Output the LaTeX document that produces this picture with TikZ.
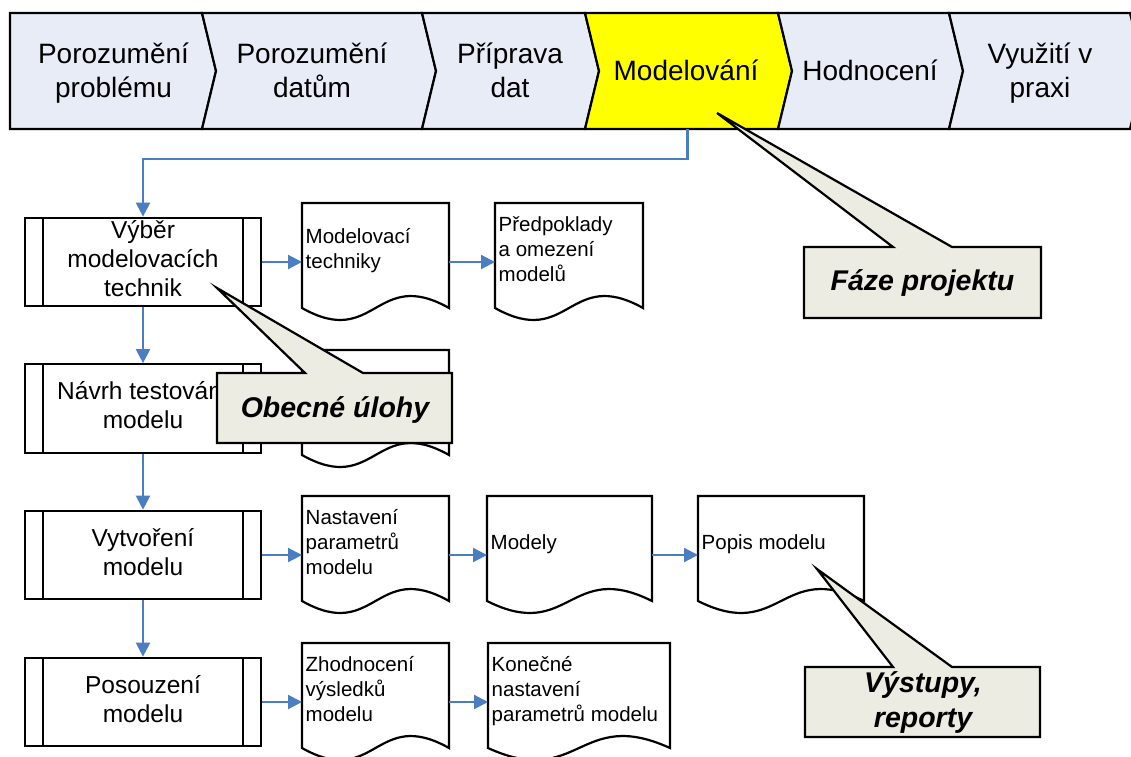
\documentclass[tikz,border=0pt]{standalone}
\usepackage{fontspec}
\setmainfont{Liberation Sans}
\usetikzlibrary{arrows.meta,calc}

\definecolor{phasefill}{RGB}{231,236,246}
\definecolor{phaseactive}{RGB}{255,255,0}
\definecolor{flowblue}{RGB}{74,126,193}
\definecolor{notefill}{RGB}{236,236,226}

\tikzset{
  outline/.style={line width=2.2pt, draw=black, line join=miter},
  phase/.style={outline, fill=phasefill},
  phasetext/.style={font=\fontsize{28}{34}\selectfont, align=center, inner sep=0pt},
  procbox/.style={outline, fill=white, minimum width=236pt, minimum height=88.5pt,
    inner sep=0pt, align=center, font=\fontsize{24.5}{29}\selectfont},
  docframe/.style={inner sep=0pt, outer sep=0pt, minimum height=118pt},
  doctext/.style={font=\fontsize{20.5}{25}\selectfont, align=left, inner sep=0pt, anchor=west},
  flow/.style={draw=flowblue, line width=2.2pt, -{Triangle[length=14pt,width=14pt]}},
  note/.style={outline, fill=notefill},
  notetext/.style={font=\fontsize{28.5}{35}\selectfont\bfseries\itshape, align=center, inner sep=0pt},
}

% document symbol: name, left, top, width, text
\newcommand\docnode[5]{%
  \draw[outline, fill=white] (#2,#3) -- ({#2+#4},#3) -- ({#2+#4},{#3+105})
    .. controls +({-#4/2},-41.5) and +({#4/2},41.5) .. (#2,{#3+105}) -- cycle;
  \node[docframe, minimum width=#4pt] (#1) at ({#2+#4/2},{#3+59}) {};
  \node[doctext] (#1-text) at ({#2+3.5},{#3+48}) {#5};
}
% predefined process: inner side bars
\newcommand\procbars[1]{%
  \draw[outline] ([xshift=19.1pt]#1.north west) -- ([xshift=19.1pt]#1.south west);
  \draw[outline] ([xshift=-19.1pt]#1.north east) -- ([xshift=-19.1pt]#1.south east);
}

\begin{document}
\begin{tikzpicture}[x=1pt, y=-1pt]
\useasboundingbox (0,0) rectangle (1131,756);
\fill[white] (0,0) rectangle (1131,756);

% phase band
\draw[phase] (10,13) -- (202,13) -- (216,71) -- (202,129) -- (10,129) -- cycle;
\draw[phase] (202,13) -- (422,13) -- (436,71) -- (422,129) -- (202,129) -- (216,71) -- cycle;
\draw[phase] (422,13) -- (585,13) -- (599,71) -- (585,129) -- (422,129) -- (436,71) -- cycle;
\draw[outline, fill=phaseactive] (585,13) -- (778,13) -- (792,71) -- (778,129) -- (585,129) -- (599,71) -- cycle;
\draw[phase] (778,13) -- (949,13) -- (963,71) -- (949,129) -- (778,129) -- (792,71) -- cycle;
\draw[phase] (949,13) -- (1130,13) -- (1144,71) -- (1130,129) -- (949,129) -- (963,71) -- cycle;

\node[phasetext] (ph1) at (113.5,73.5) {\strut Porozumění\\\strut problému};
\node[phasetext] (ph2) at (312,73.5) {\strut Porozumění\\\strut datům};
\node[phasetext] (ph3) at (510,73.5) {\strut Příprava\\\strut dat};
\node[phasetext] (ph4) at (686,73.5) {\strut Modelování};
\node[phasetext] (ph5) at (870,73.5) {\strut Hodnocení};
\node[phasetext] (ph6) at (1040,73.5) {\strut Využití v\\\strut praxi};
\coordinate (phaseout) at (687.5,129);

% generic tasks
\node[procbox] (p1) at (143,262) {\strut Výběr\\\strut modelovacích\\\strut technik};
\node[procbox] (p2) at (143,408.5) {\strut Návrh testování\\\strut modelu};
\node[procbox] (p3) at (143,555) {\strut Vytvoření\\\strut modelu};
\node[procbox] (p4) at (143,702) {\strut Posouzení\\\strut modelu};
\procbars{p1}\procbars{p2}\procbars{p3}\procbars{p4}

% outputs
\docnode{d1}{302}{203}{147}{\strut Modelovací\\\strut techniky}
\docnode{d2}{495}{203}{148}{\strut Předpoklady\\\strut a omezení\\\strut modelů}
\docnode{d3}{302}{350}{147}{}
\docnode{d4}{302}{496}{147}{\strut Nastavení\\\strut parametrů\\\strut modelu}
\docnode{d5}{487}{496}{165}{\strut Modely}
\docnode{d6}{698}{496}{166}{\strut Popis modelu}
\docnode{d7}{302}{643}{147}{\strut Zhodnocení\\\strut výsledků\\\strut modelu}
\docnode{d8}{488}{643}{182}{\strut Konečné\\\strut nastavení\\\strut parametrů modelu}

% flow
\draw[flow] (phaseout) -- ++(0,30) -| (p1.north);
\draw[flow] (p1) -- (p2);
\draw[flow] (p2) -- (p3);
\draw[flow] (p3) -- (p4);
\draw[flow] (p1.east) -- (d1.west);
\draw[flow] (d1.east) -- (d2.west);
\draw[flow] (p3.east) -- (d4.west);
\draw[flow] (d4.east) -- (d5.west);
\draw[flow] (d5.east) -- (d6.west);
\draw[flow] (p4.east) -- (d7.west);
\draw[flow] (d7.east) -- (d8.west);

% callouts
\draw[note] (804,247) -- (893,247) -- (717,113) -- (952,247) -- (1041,247) -- (1041,318) -- (804,318) -- cycle;
\node[notetext] (n1) at (922.5,283) {\strut Fáze projektu};
\draw[note] (217,373) -- (305,373) -- (217,288) -- (363,373) -- (452,373) -- (452,443) -- (217,443) -- cycle;
\node[notetext] (n2) at (335,410) {\strut Obecné úlohy};
\draw[note] (805,667) -- (893,667) -- (817,569) -- (952,667) -- (1040,667) -- (1040,737) -- (805,737) -- cycle;
\node[notetext] (n3) at (923,702.5) {\strut Výstupy,\\\strut reporty};
\end{tikzpicture}
\end{document}
